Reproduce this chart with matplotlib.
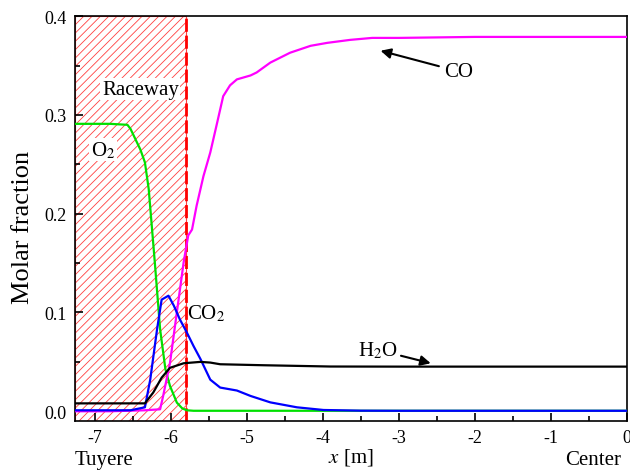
import matplotlib.pyplot as plt
from matplotlib.patches import Rectangle

plt.rcParams['font.family'] = ['Liberation Serif', 'DejaVu Serif']
plt.rcParams['mathtext.fontset'] = 'stix'
plt.rcParams['axes.unicode_minus'] = False
plt.rcParams['hatch.color'] = '#ff5050'
plt.rcParams['hatch.linewidth'] = 0.6

# species profiles along the radial line
x_o2 = [-7.26, -6.8, -6.57, -6.53, -6.40, -6.34, -6.29, -6.25, -6.21, -6.14, -6.07, -6.01, -5.92, -5.85, -5.79, -5.7, -5.0, -4.0, -3.0, -2.0, -1.0, 0.0]
o2 = [0.291, 0.291, 0.290, 0.286, 0.265, 0.252, 0.225, 0.188, 0.151, 0.083, 0.0425, 0.0256, 0.0088, 0.003, 0.001, 0.0005, 0.0005, 0.0005, 0.0005, 0.0005, 0.0005, 0.0005]

x_co2 = [-7.26, -6.8, -6.53, -6.34, -6.27, -6.18, -6.12, -6.03, -5.96, -5.88, -5.79, -5.70, -5.61, -5.48, -5.35, -5.13, -4.95, -4.69, -4.34, -3.99, -3.5, -3.0, -2.0, -1.0, 0.0]
co2 = [0.001, 0.001, 0.001, 0.004, 0.032, 0.083, 0.113, 0.117, 0.107, 0.093, 0.080, 0.066, 0.053, 0.032, 0.024, 0.021, 0.0155, 0.009, 0.004, 0.0013, 0.0006, 0.0005, 0.0005, 0.0005, 0.0005]

x_h2o = [-7.26, -6.8, -6.34, -6.23, -6.12, -6.01, -5.83, -5.61, -5.48, -5.35, -4.78, -3.90, -3.0, -2.0, -1.0, 0.0]
h2o = [0.008, 0.008, 0.008, 0.019, 0.034, 0.044, 0.0486, 0.050, 0.0493, 0.0476, 0.0466, 0.0453, 0.0452, 0.0452, 0.0452, 0.0452]

x_co = [-7.26, -6.8, -6.34, -6.14, -6.10, -6.01, -5.92, -5.83, -5.77, -5.72, -5.66, -5.57, -5.48, -5.39, -5.31, -5.22, -5.13, -4.95, -4.87, -4.69, -4.43, -4.16, -3.94, -3.64, -3.35, -3.0, -2.0, -1.0, 0.0]
co = [0.0, 0.0, 0.001, 0.002, 0.0155, 0.049, 0.100, 0.151, 0.178, 0.184, 0.208, 0.238, 0.262, 0.292, 0.319, 0.330, 0.336, 0.340, 0.343, 0.353, 0.363, 0.370, 0.373, 0.376, 0.378, 0.378, 0.379, 0.379, 0.379]

raceway_end = -5.8
x_min, x_max = -7.26, 0.0
y_min, y_max = -0.01, 0.4

fig = plt.figure(figsize=(6.3, 4.77), dpi=100)
ax = fig.add_axes([0.119, 0.115, 0.876, 0.849])

# raceway zone
ax.add_patch(Rectangle((x_min, y_min), raceway_end - x_min, y_max - y_min,
                       facecolor='white', edgecolor='#ff4040', hatch='////',
                       linewidth=0.8, zorder=1))
ax.axvline(raceway_end, color='red', linestyle=(0, (4.7, 1.4)), linewidth=2, zorder=2)

ax.plot(x_o2, o2, color='#00e000', lw=1.6, zorder=3)
ax.plot(x_co, co, color='#ff00ff', lw=1.6, zorder=3)
ax.plot(x_co2, co2, color='#0000ff', lw=1.6, zorder=4)
ax.plot(x_h2o, h2o, color='black', lw=1.6, zorder=4)

ax.set_xlim(x_min, x_max)
ax.set_ylim(y_min, y_max)
ax.set_xticks([-7, -6, -5, -4, -3, -2, -1, 0])
ax.set_xticks([-6.5, -5.5, -4.5, -3.5, -2.5, -1.5, -0.5], minor=True)
ax.set_yticks([0.0, 0.1, 0.2, 0.3, 0.4])
ax.set_yticks([0.05, 0.15, 0.25, 0.35], minor=True)
ax.set_yticklabels(['0.0', '0.1', '0.2', '0.3', '0.4'])
ax.tick_params(direction='in', labelsize=13, length=6, width=1.2, pad=6)
ax.tick_params(which='minor', direction='in', length=3.5, width=1.2)
for s in ax.spines.values():
    s.set_linewidth(1.2)

ax.set_ylabel('Molar fraction', fontsize=19)
ax.yaxis.set_label_coords(-0.075, 0.481)
ax.set_xlabel(r'$x$ [m]', fontsize=15, labelpad=0)
fig.text(0.165, 0.025, 'Tuyere', fontsize=15, ha='center')
fig.text(0.942, 0.025, 'Center', fontsize=15, ha='center')

ax.text(-6.40, 0.326, 'Raceway', fontsize=15, ha='center', va='center', zorder=5,
        bbox=dict(facecolor='white', edgecolor='none', pad=1))
ax.text(-6.89, 0.265, r'O$_2$', fontsize=15, ha='center', va='center', zorder=5,
        bbox=dict(facecolor='white', edgecolor='none', pad=1))
ax.text(-5.78, 0.1, r'CO$_2$', fontsize=15, ha='left', va='center', zorder=5)
ax.annotate(r'H$_2$O', xy=(-2.58, 0.0486), xytext=(-3.27, 0.062), fontsize=15,
            ha='center', va='center',
            arrowprops=dict(arrowstyle='-|>', color='black', lw=1.5, shrinkA=0, shrinkB=0))
ax.annotate('CO', xy=(-3.24, 0.365), xytext=(-2.21, 0.344), fontsize=15,
            ha='center', va='center',
            arrowprops=dict(arrowstyle='-|>', color='black', lw=1.5, shrinkA=2, shrinkB=0))

fig.savefig('out.png', dpi=100)
